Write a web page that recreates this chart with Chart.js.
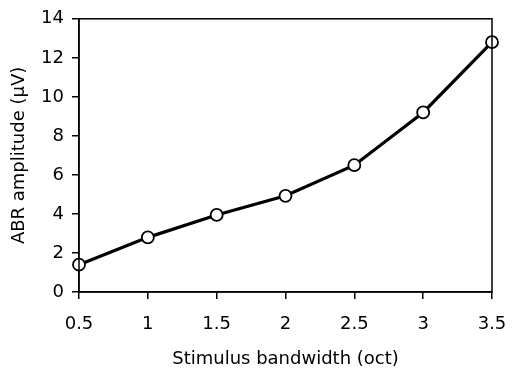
<!DOCTYPE html>
<html>
<head>
<meta charset="utf-8">
<script src="https://cdn.jsdelivr.net/npm/chart.js@4"></script>
<style>
  html, body { margin: 0; padding: 0; background: #fff; }
  #wrap { width: 516px; height: 368px; }
</style>
</head>
<body>
<div id="wrap"><canvas id="chart"></canvas></div>
<script>
const bandwidths = [0.5, 1, 1.5, 2, 2.5, 3, 3.5];
const amplitudes = [1.4, 2.8, 3.95, 4.93, 6.5, 9.2, 12.8];
const xTitle = "Stimulus bandwidth (oct)";
const yTitle = "ABR amplitude (\u00b5V)";

// box around the plot area
const frame = {
  id: "frame",
  afterDraw(chart) {
    const { ctx, chartArea: a } = chart;
    ctx.save();
    ctx.strokeStyle = "#000";
    ctx.lineWidth = 1.5;
    ctx.strokeRect(a.left, a.top, a.right - a.left, a.bottom - a.top);
    ctx.restore();
  },
};

const font = { family: "'DejaVu Sans', Verdana, sans-serif", size: 18 };

new Chart(document.getElementById("chart"), {
  type: "line",
  data: {
    datasets: [
      {
        data: bandwidths.map((x, i) => ({ x, y: amplitudes[i] })),
        borderColor: "#000",
        borderWidth: 3.2,
        pointRadius: 6,
        pointBorderWidth: 1.8,
        pointBackgroundColor: "#fff",
        pointBorderColor: "#000",
        tension: 0,
        clip: false,
      },
    ],
  },
  options: {
    responsive: true,
    maintainAspectRatio: false,
    animation: false,
    layout: { autoPadding: false, padding: { top: 15, right: 24, left: 0, bottom: 0 } },
    plugins: { legend: { display: false }, tooltip: { enabled: false } },
    scales: {
      x: {
        type: "linear",
        min: 0.5,
        max: 3.5,
        afterFit: (s) => {
          s.height = 76;
          s.paddingLeft = 0;
          s.paddingRight = 0;
        },
        ticks: { stepSize: 0.5, color: "#000", font, padding: 15, callback: (v) => v },
        grid: { drawOnChartArea: false, color: "#000", tickLength: 7, lineWidth: 1.5 },
        border: { color: "#000", width: 1.5 },
        title: { display: true, text: xTitle, color: "#000", font, padding: { top: 0, bottom: -2 } },
      },
      y: {
        min: 0,
        max: 14,
        afterFit: (s) => { s.width = 79; },
        ticks: { stepSize: 2, color: "#000", font, padding: 8 },
        grid: { drawOnChartArea: false, color: "#000", tickLength: 7, lineWidth: 1.5 },
        border: { color: "#000", width: 1.5 },
        title: { display: true, text: yTitle, color: "#000", font, padding: { top: 9, bottom: 0 } },
      },
    },
  },
  plugins: [frame],
});
</script>
</body>
</html>
